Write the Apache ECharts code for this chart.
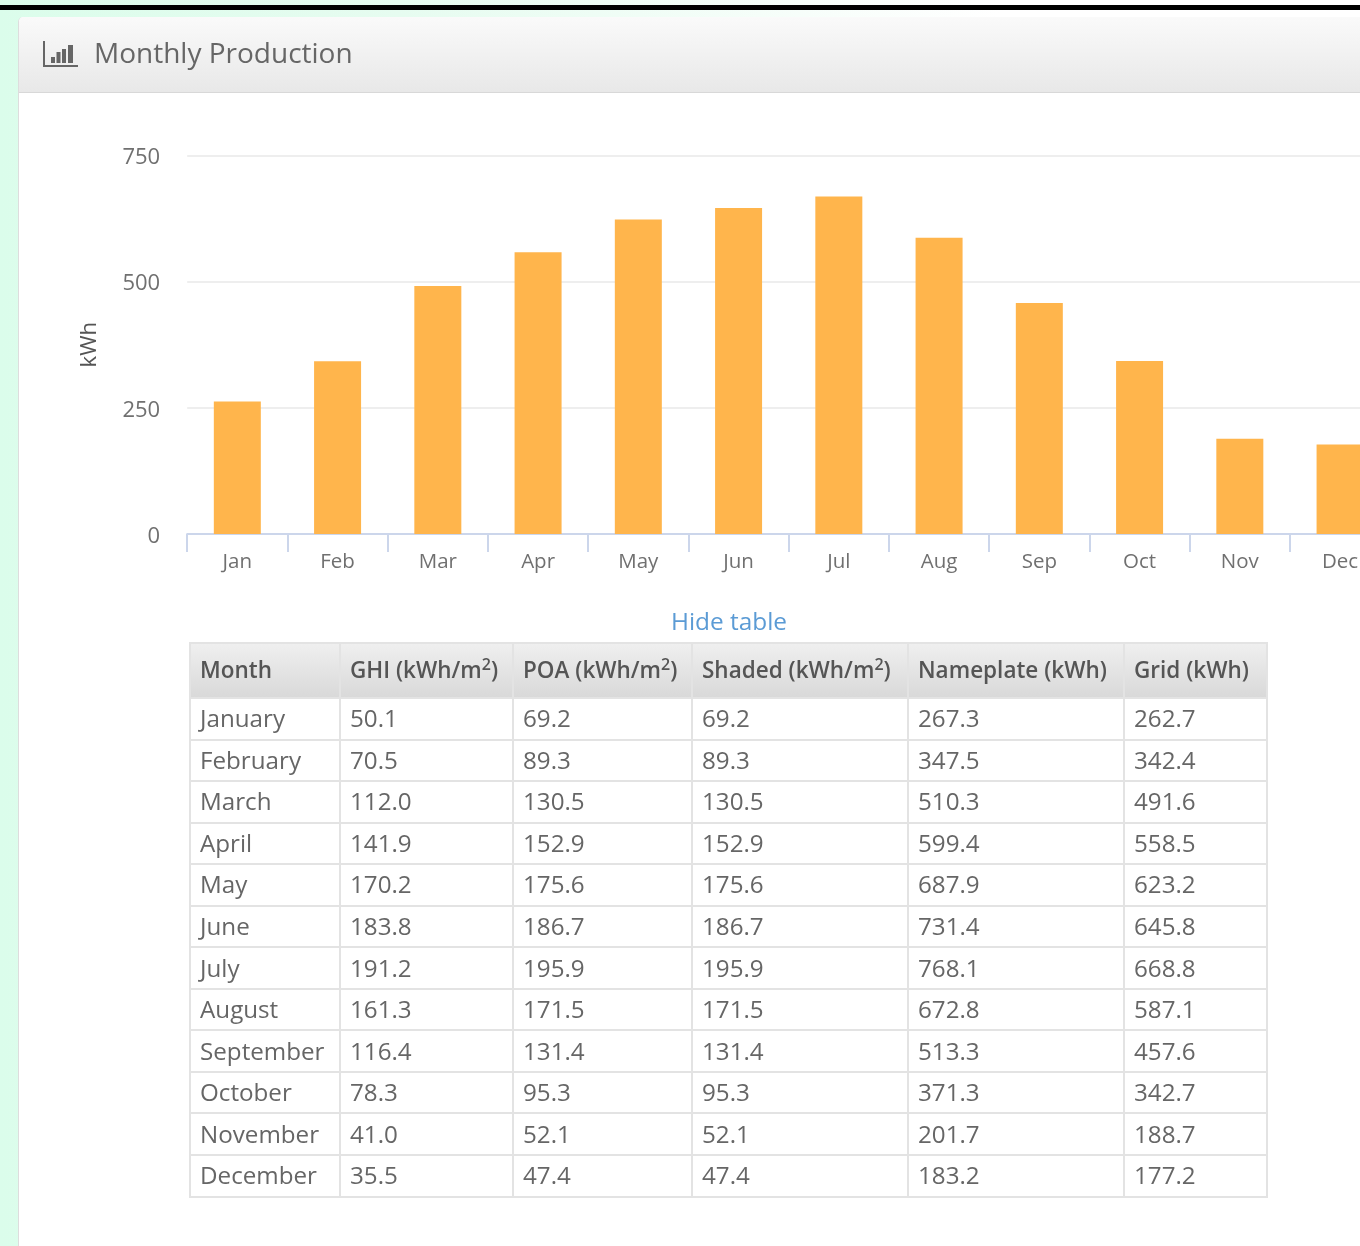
<!DOCTYPE html>
<html>
<head>
<meta charset="utf-8">
<title>Monthly Production</title>
<script src="https://cdn.jsdelivr.net/npm/echarts@6/dist/echarts.min.js"></script>
<style>
html,body{margin:0;padding:0;width:1360px;height:1246px;overflow:hidden;font-family:"Open Sans",sans-serif;}
body{position:relative;background:linear-gradient(to right,#dbfdeb 0,#e6fcf0 400px,#ffffff 1000px);}
body > *{filter:blur(0.4px);}
#bar{position:absolute;left:0;right:0;top:5px;height:5px;background:#000;}
#panel{position:absolute;left:18px;top:17px;width:1400px;height:1240px;background:#fff;border-left:1px solid #ddd;border-top-left-radius:5px;box-sizing:border-box;}
#head{position:absolute;left:0;top:0;right:0;height:76px;background:linear-gradient(to bottom,#fafafa,#e8e8e8);border-bottom:1px solid #d8d8d8;box-sizing:border-box;border-top-left-radius:5px;}
#icon{position:absolute;left:24px;top:24px;}
#title{position:absolute;left:75px;top:15px;font-size:28px;line-height:40px;color:#666;white-space:nowrap;}
#chart{position:absolute;left:0;top:0;width:1420px;height:600px;}
#hide{position:absolute;left:529px;width:400px;top:604px;line-height:34px;text-align:center;font-size:24.4px;color:#5b9bd5;}
table{position:absolute;left:189px;top:642px;width:1077px;border-collapse:collapse;table-layout:fixed;font-size:24.2px;color:#666;}
th,td{border:2px solid #e3e3e3;padding:0 0 2px 9px;text-align:left;white-space:nowrap;overflow:hidden;box-sizing:border-box;}
th{height:55px;padding-bottom:3px;font-weight:600;color:#555;font-size:22.5px;background:linear-gradient(to bottom,#efefef,#d9d9d9);}
td{height:41.55px;}
sup{font-size:16px;line-height:0;}
</style>
</head>
<body>
<div id="bar"></div>
<div id="panel">
  <div id="head">
    <svg id="icon" width="36" height="27" viewBox="0 0 36 27">
      <path d="M1 0V25H35" fill="none" stroke="#666" stroke-width="2"/>
      <rect x="8" y="16" width="4" height="6" fill="#666"/>
      <rect x="13.5" y="11" width="4" height="11" fill="#666"/>
      <rect x="19" y="8" width="4" height="14" fill="#666"/>
      <rect x="25" y="4" width="5" height="18" fill="#666"/>
    </svg>
    <div id="title">Monthly Production</div>
  </div>
</div>
<div id="chart"></div>
<div id="hide">Hide table</div>
<table id="tbl"></table>
<script>
const shortMonths = ['Jan','Feb','Mar','Apr','May','Jun','Jul','Aug','Sep','Oct','Nov','Dec'];
const months = ['January','February','March','April','May','June','July','August','September','October','November','December'];
const ghi = ['50.1','70.5','112.0','141.9','170.2','183.8','191.2','161.3','116.4','78.3','41.0','35.5'];
const poa = ['69.2','89.3','130.5','152.9','175.6','186.7','195.9','171.5','131.4','95.3','52.1','47.4'];
const shaded = ['69.2','89.3','130.5','152.9','175.6','186.7','195.9','171.5','131.4','95.3','52.1','47.4'];
const nameplate = ['267.3','347.5','510.3','599.4','687.9','731.4','768.1','672.8','513.3','371.3','201.7','183.2'];
const grid = ['262.7','342.4','491.6','558.5','623.2','645.8','668.8','587.1','457.6','342.7','188.7','177.2'];
const headers = ['Month','GHI (kWh/m<sup>2</sup>)','POA (kWh/m<sup>2</sup>)','Shaded (kWh/m<sup>2</sup>)','Nameplate (kWh)','Grid (kWh)'];
const colWidths = [150,173,179,216,216,143];

const tbl = document.getElementById('tbl');
let html = '<colgroup>' + colWidths.map(w => '<col style="width:' + w + 'px">').join('') + '</colgroup>';
html += '<tr>' + headers.map(h => '<th>' + h + '</th>').join('') + '</tr>';
months.forEach((m, i) => {
  html += '<tr>' + [m, ghi[i], poa[i], shaded[i], nameplate[i], grid[i]].map(v => '<td>' + v + '</td>').join('') + '</tr>';
});
tbl.innerHTML = html;

const chart = echarts.init(document.getElementById('chart'), null, {renderer:'canvas'});
chart.setOption({
  animation:false,
  grid:{left:187.2,top:155.5,width:1203,height:378.5},
  xAxis:{
    type:'category',
    data:shortMonths,
    axisLine:{lineStyle:{color:'#ccd6eb',width:2}},
    axisTick:{show:true,alignWithLabel:false,length:18,lineStyle:{color:'#ccd6eb',width:2}},
    axisLabel:{color:'#707070',fontSize:20.5,fontFamily:'"Open Sans"',margin:18,interval:0},
    splitLine:{show:false}
  },
  yAxis:{
    type:'value',
    min:0,max:750,interval:250,
    name:'kWh',
    nameLocation:'middle',
    nameGap:86,
    nameTextStyle:{color:'#555',fontSize:22,fontFamily:'"Open Sans"'},
    axisLine:{show:false},
    axisTick:{show:false},
    axisLabel:{color:'#707070',fontSize:22,fontFamily:'"Open Sans"',margin:27,verticalAlign:'top',lineHeight:5},
    splitLine:{lineStyle:{color:'#eeeeee',width:2}}
  },
  series:[{
    type:'bar',
    data:grid.map(Number),
    barWidth:47,
    itemStyle:{color:'#ffb54c'}
  }]
});
</script>
</body>
</html>
